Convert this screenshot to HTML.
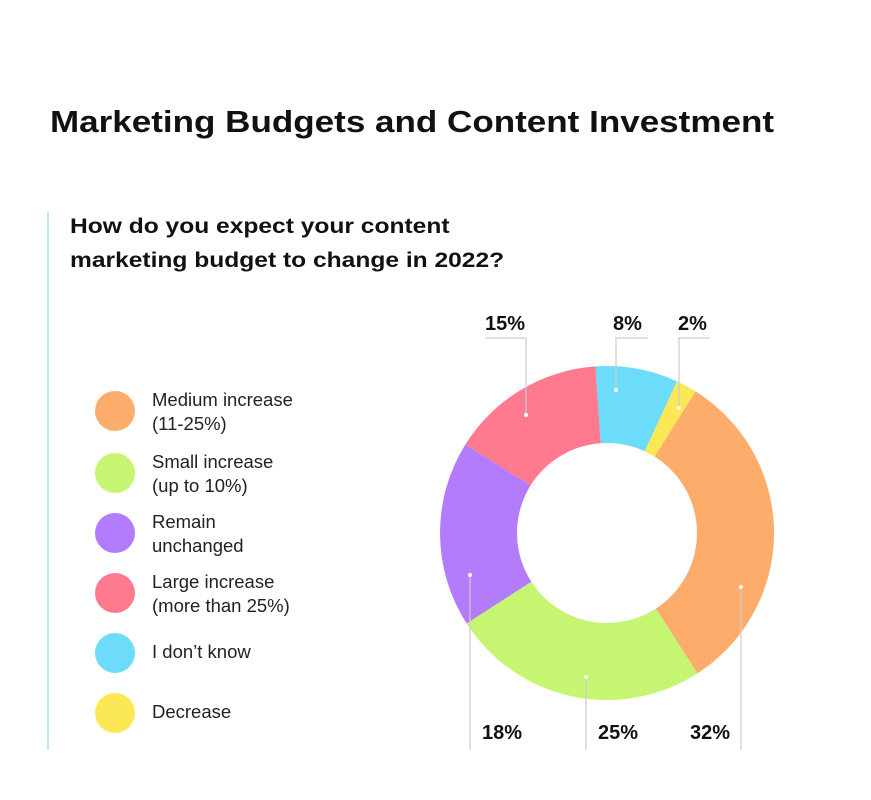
<!DOCTYPE html>
<html><head><style>
body{margin:0;background:#fff;width:871px;height:800px;overflow:hidden;font-family:"Liberation Sans",sans-serif;color:#111;}
.t{position:absolute;left:50px;top:104px;font-size:31px;font-weight:bold;white-space:nowrap;transform:scaleX(1.13);transform-origin:0 0}
.s{position:absolute;left:70px;top:210px;font-size:21px;font-weight:bold;line-height:34px;white-space:nowrap;transform:scaleX(1.17);transform-origin:0 0}
.bar{position:absolute;left:47px;top:212px;width:2px;height:538px;background:#bfe6f2}
.lg{position:absolute;left:95px;font-size:18.5px;line-height:24px;color:#222}
.lg i{position:absolute;left:0;width:40px;height:40px;border-radius:50%}
.lg span{position:absolute;left:57px;white-space:nowrap}
</style></head><body>
<div class="t">Marketing Budgets and Content Investment</div>
<div class="bar"></div>
<div class="s">How do you expect your content<br>marketing budget to change in 2022?</div>
<div class="lg" style="top:391px"><i style="background:#fdac6b"></i><span style="top:-3px">Medium increase<br>(11-25%)</span></div>
<div class="lg" style="top:453px"><i style="background:#c6f571"></i><span style="top:-3px">Small increase<br>(up to 10%)</span></div>
<div class="lg" style="top:513px"><i style="background:#b37cfc"></i><span style="top:-3px">Remain<br>unchanged</span></div>
<div class="lg" style="top:573px"><i style="background:#ff7a8e"></i><span style="top:-3px">Large increase<br>(more than 25%)</span></div>
<div class="lg" style="top:633px"><i style="background:#6ddcfb"></i><span style="top:7px">I don’t know</span></div>
<div class="lg" style="top:693px"><i style="background:#fce755"></i><span style="top:7px">Decrease</span></div>
<svg width="871" height="800" style="position:absolute;left:0;top:0" id="sv"></svg>
<script>
var cx=607,cy=533,R=167,r=90;
var seg=[[8,"#6ddcfb"],[2,"#fce755"],[32,"#fdac6b"],[25,"#c6f571"],[18,"#b37cfc"],[15,"#ff7a8e"]];
var a=-4,s="";
function p(ang,rad){var t=ang*Math.PI/180;return [cx+rad*Math.sin(t),cy-rad*Math.cos(t)];}
seg.forEach(function(q){var b=a+q[0]*3.6;var p1=p(a,R),p2=p(b,R),p3=p(b,r),p4=p(a,r);var L=(b-a)>180?1:0;
s+='<path d="M'+p1+' A'+R+' '+R+' 0 '+L+' 1 '+p2+' L'+p3+' A'+r+' '+r+' 0 '+L+' 0 '+p4+'Z" fill="'+q[1]+'"/>';a=b;});
var ln='stroke="#ccc" stroke-width="1.2" fill="none"';
s+='<polyline points="486,338 526,338 526,415" '+ln+'/><polyline points="615,338 648,338" '+ln+'/><polyline points="616,338 616,390" '+ln+'/><polyline points="678,338 710,338" '+ln+'/><polyline points="679,338 679,408" '+ln+'/>';
s+='<polyline points="470,575 470,750" '+ln+'/><polyline points="586,677 586,750" '+ln+'/><polyline points="741,587 741,750" '+ln+'/>';
[[526,415],[616,390],[679,408],[470,575],[586,677],[741,587]].forEach(function(d){s+='<circle cx="'+d[0]+'" cy="'+d[1]+'" r="2" fill="#fff"/>';});
var lab=[[485,330,"15%"],[613,330,"8%"],[678,330,"2%"],[482,739,"18%"],[598,739,"25%"],[690,739,"32%"]];
lab.forEach(function(l){s+='<text x="'+l[0]+'" y="'+l[1]+'" font-size="20" font-weight="bold" fill="#111" font-family="Liberation Sans, sans-serif">'+l[2]+'</text>';});
document.getElementById("sv").innerHTML=s;
</script>
</body></html>
